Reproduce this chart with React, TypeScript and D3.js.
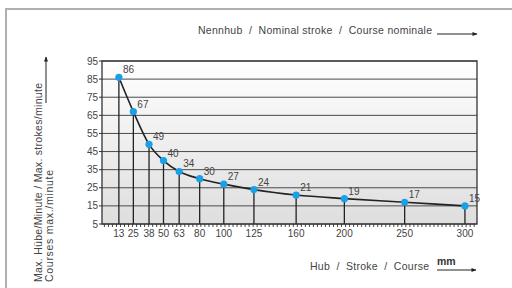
import React from 'react';
import * as d3 from 'd3';

// Nennhub (mm) -> max. Hübe/Minute
const strokes = [13, 25, 38, 50, 63, 80, 100, 125, 160, 200, 250, 300];
const rates = [86, 67, 49, 40, 34, 30, 27, 24, 21, 19, 17, 15];
const yTicks = [5, 15, 25, 35, 45, 55, 65, 75, 85, 95];

const W = 512, H = 288;
const plot = { left: 102, right: 477, top: 61, bottom: 224 };
const font = '"Liberation Sans", Arial, sans-serif';
const pre = { whiteSpace: 'pre' as const };

const App: React.FC = () => {
  const x = d3.scaleLinear().domain([-1, 310]).range([plot.left, plot.right]);
  const y = d3.scaleLinear().domain([5, 95]).range([plot.bottom, plot.top]);

  const pts = strokes.map((s, i) => [x(s), y(rates[i])] as [number, number]);
  const line = d3.line().curve(d3.curveMonotoneX)(pts) || '';

  // kleine Teilstriche auf der x-Achse
  const minor = d3.range(1, 310, 10 / 3);

  return (
    <svg width={W} height={H} style={{ position: 'absolute', left: 0, top: 0, background: '#fff' }}>
      <defs>
        <linearGradient id="bg" x1="0" y1="0" x2="0" y2="1">
          <stop offset="0" stopColor="#ffffff" />
          <stop offset="1" stopColor="#dedede" />
        </linearGradient>
        <marker id="arr" viewBox="0 0 10 10" refX="9" refY="5" markerWidth="7" markerHeight="5" orient="auto">
          <path d="M0,1 L10,5 L0,9 z" fill="#222" />
        </marker>
      </defs>

      {/* Rahmen */}
      <path d="M6,290 L6,9 L520,9" fill="none" stroke="#b0b0b0" strokeWidth={2} />

      {/* Plotfläche */}
      <rect x={plot.left} y={plot.top} width={plot.right - plot.left} height={plot.bottom - plot.top} fill="url(#bg)" />

      {/* horizontale Gitterlinien */}
      {yTicks.map(t => (
        <g key={t}>
          <line x1={plot.left} x2={plot.right} y1={y(t)} y2={y(t)} stroke="#4a4a4a" strokeWidth={1} />
          <line x1={plot.left - 3} x2={plot.left} y1={y(t)} y2={y(t)} stroke="#333" />
          <text x={plot.left - 4} y={y(t) + 3.5} textAnchor="end" fontSize={10} fill="#444" fontFamily={font}>{t}</text>
        </g>
      ))}

      {/* Lote */}
      {pts.map(([px, py], i) => (
        <line key={i} x1={px} x2={px} y1={py} y2={plot.bottom} stroke="#222" strokeWidth={1.3} />
      ))}

      <rect x={plot.left} y={plot.top} width={plot.right - plot.left} height={plot.bottom - plot.top} fill="none" stroke="#333" strokeWidth={1.3} />

      {/* Teilstriche */}
      {minor.map((m, i) => (
        <line key={i} x1={x(m)} x2={x(m)} y1={plot.bottom} y2={plot.bottom + 3} stroke="#333" strokeWidth={0.9} />
      ))}
      {strokes.map(s => (
        <text key={s} x={x(s)} y={plot.bottom + 13} textAnchor="middle" fontSize={10} fill="#444" fontFamily={font}>{s}</text>
      ))}

      {/* Kurve */}
      <path d={line} fill="none" stroke="#222" strokeWidth={1.6} />
      {pts.map(([px, py], i) => (
        <g key={i}>
          <circle cx={px} cy={py} r={3.6} fill="#1aa0e6" />
          <text x={px + 4} y={py - 4} fontSize={10} fill="#444" fontFamily={font}>{rates[i]}</text>
        </g>
      ))}

      {/* Achsentitel */}
      <text x={198} y={34} fontSize={10.5} fill="#444" fontFamily={font} style={pre} textLength={234} lengthAdjust="spacing">Nennhub  /  Nominal stroke  /  Course nominale</text>
      <line x1={437} x2={477} y1={34} y2={34} stroke="#222" markerEnd="url(#arr)" />

      <text x={310} y={270} fontSize={10.5} fill="#444" fontFamily={font} style={pre} textLength={119} lengthAdjust="spacing">Hub  /  Stroke  /  Course</text>
      <text x={437} y={265} fontSize={10.5} fontWeight="bold" fill="#333" fontFamily={font}>mm</text>
      <line x1={437} x2={476} y1={270} y2={270} stroke="#222" markerEnd="url(#arr)" />

      <text transform="translate(42,282) rotate(-90)" fontSize={10.5} fill="#444" fontFamily={font} textLength={199} lengthAdjust="spacing">Max. Hübe/Minute / Max. strokes/minute</text>
      <text transform="translate(53,282) rotate(-90)" fontSize={10.5} fill="#444" fontFamily={font} textLength={112} lengthAdjust="spacing">Courses max./minute</text>
      <line x1={46} x2={46} y1={103} y2={57} stroke="#222" markerEnd="url(#arr)" />
    </svg>
  );
};

export default App;
